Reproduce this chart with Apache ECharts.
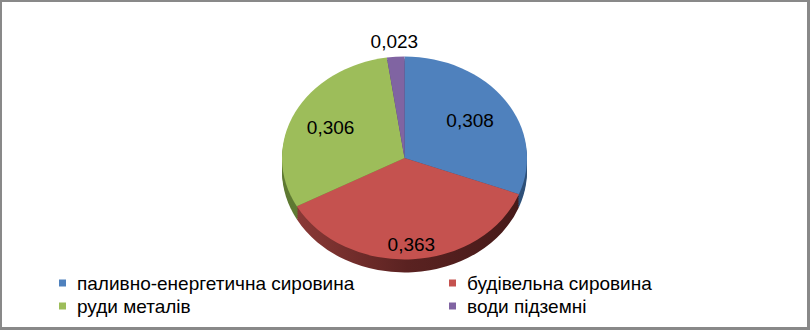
<!DOCTYPE html>
<html>
<head>
<meta charset="utf-8">
<script src="https://cdn.jsdelivr.net/npm/echarts@6/dist/echarts.min.js"></script>
<style>
  html, body { margin: 0; padding: 0; background: #ffffff; }
  #wrap { position: relative; width: 810px; height: 330px; overflow: hidden; background: #fff; }
  #pie { position: absolute; left: 0; top: 0; width: 810px; height: 330px; transform-origin: 0 158px; }
  #over { position: absolute; left: 0; top: 0; width: 810px; height: 330px; }
  #frame { position: absolute; left: 0; top: 0; width: 810px; height: 330px; box-sizing: border-box;
           border-top: 2px solid #898989; border-left: 2px solid #898989;
           border-right: 3px solid #898989; border-bottom: 3px solid #898989; pointer-events: none; }
</style>
</head>
<body>
<div id="wrap">
  <div id="pie"></div>
  <div id="over"></div>
  <div id="frame"></div>
</div>
<script>
// ---- data ----
const categories = ['паливно-енергетична сировина', 'будівельна сировина', 'руди металів', 'води підземні'];
const values = [0.308, 0.363, 0.306, 0.023];

// ---- styles ----
const topColors = ['#4F81BD', '#C5524F', '#9DBD5A', '#8064A2'];
const sideColors = [
  '#2F5179',
  { type: 'linear', x: 0, y: 0, x2: 1, y2: 0, colorStops: [{ offset: 0, color: '#8A3936' }, { offset: 0.5, color: '#5A2221' }, { offset: 1, color: '#461A19' }] },
  '#5F7A33',
  '#4E3A66'
];
const CX = 404.5, CY = 158, RX = 122.5, RY = 101.5;
const K = RY / RX;
const DEPTH = 13;               // screen px
const labelRadius = [0.65, 0.85, 0.675, 1.15];
const FONT = '"Liberation Sans", Arial, sans-serif';

document.getElementById('pie').style.transform = 'scaleY(' + K + ')';

function pieData(colorList) {
  return categories.map((c, i) => ({ name: c, value: values[i], itemStyle: { color: colorList[i] } }));
}

// ---- pie body (scaled vertically to an ellipse) ----
const pieChart = echarts.init(document.getElementById('pie'), null, { renderer: 'svg' });
const series = [];
const steps = 6;
for (let s = steps; s >= 1; s--) {
  const d = (DEPTH / K) * s / steps;
  series.push({
    type: 'pie', silent: true, animation: false,
    center: [CX, CY + d], radius: RX, startAngle: 90, clockwise: true,
    label: { show: false }, labelLine: { show: false },
    itemStyle: { borderWidth: 0 },
    data: pieData(sideColors)
  });
}
series.push({
  type: 'pie', silent: true, animation: false,
  center: [CX, CY], radius: RX, startAngle: 90, clockwise: true,
  label: { show: false }, labelLine: { show: false },
  itemStyle: { borderWidth: 0 },
  data: pieData(topColors)
});
pieChart.setOption({ animation: false, series: series });

// ---- labels + legend (unscaled overlay) ----
const total = values.reduce((a, b) => a + b, 0);
const mids = [];
let acc = 0;
values.forEach(v => { mids.push((acc + v / 2) / total * 2 * Math.PI); acc += v; });

const overChart = echarts.init(document.getElementById('over'), null, { renderer: 'svg' });
const legendText = { fontFamily: FONT, fontSize: 19, lineHeight: 20, color: '#000', padding: [0, 0, 0, 6] };
function legendItems(idx) {
  return idx.map(i => ({ name: categories[i], icon: 'rect', itemStyle: { color: topColors[i], borderWidth: 0, opacity: 1 } }));
}
overChart.setOption({
  animation: false,
  legend: [
    { orient: 'vertical', left: 59, top: 273, padding: 0, itemWidth: 7, itemHeight: 7, itemGap: 3,
      textStyle: legendText, selectedMode: false, data: legendItems([0, 2]) },
    { orient: 'vertical', left: 449, top: 273, padding: 0, itemWidth: 7, itemHeight: 7, itemGap: 3,
      textStyle: legendText, selectedMode: false, data: legendItems([1, 3]) }
  ],
  series: [{
    type: 'pie', silent: true, animation: false,
    center: [CX, CY], radius: RX, startAngle: 90, clockwise: true,
    itemStyle: { color: 'rgba(0,0,0,0)', borderWidth: 0 },
    label: {
      show: true, position: 'inside', color: '#000', fontFamily: FONT, fontSize: 19,
      formatter: p => String(p.value).replace('.', ',')
    },
    labelLine: { show: false },
    labelLayout: function (p) {
      const i = p.dataIndex, a = mids[i], f = labelRadius[i];
      return { x: CX + f * RX * Math.sin(a), y: CY - f * RY * Math.cos(a), align: 'center', verticalAlign: 'middle' };
    },
    data: categories.map((c, i) => ({ name: c, value: values[i] }))
  }]
});
</script>
</body>
</html>
